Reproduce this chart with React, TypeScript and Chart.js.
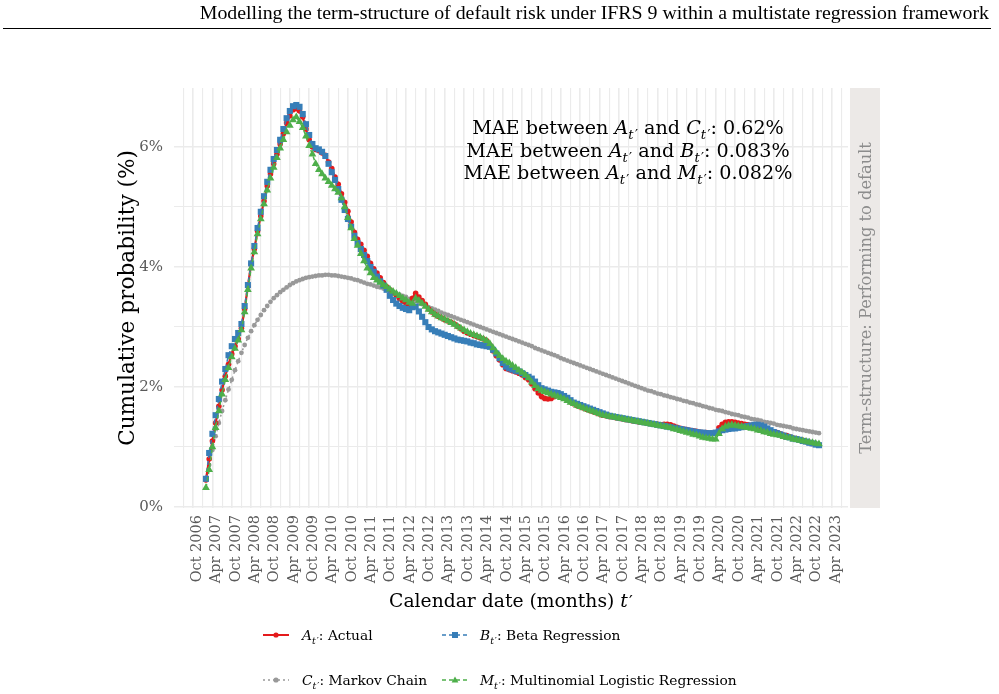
import React, { useEffect, useRef } from 'react';
import { Chart, registerables } from 'chart.js';
Chart.register(...registerables);

// x = months after Oct 2006; first observation is Feb 2007
const FIRST_MONTH = 4;

const xTickLabels = [
  'Oct 2006', 'Apr 2007', 'Oct 2007', 'Apr 2008', 'Oct 2008', 'Apr 2009', 'Oct 2009', 'Apr 2010',
  'Oct 2010', 'Apr 2011', 'Oct 2011', 'Apr 2012', 'Oct 2012', 'Apr 2013', 'Oct 2013', 'Apr 2014',
  'Oct 2014', 'Apr 2015', 'Oct 2015', 'Apr 2016', 'Oct 2016', 'Apr 2017', 'Oct 2017', 'Apr 2018',
  'Oct 2018', 'Apr 2019', 'Oct 2019', 'Apr 2020', 'Oct 2020', 'Apr 2021', 'Oct 2021', 'Apr 2022',
  'Oct 2022', 'Apr 2023',
];
const X_LABEL_STEP = 6;
const X_MINOR_STEP = 3;
const yTickValues = [0, 1, 2, 3, 4, 5, 6];
const yTickLabels = ['0%', '', '2%', '', '4%', '', '6%'];

// Actual (%)
const actual = [
  0.45, 0.80, 1.10, 1.40, 1.68, 1.95, 2.18, 2.38, 2.55, 2.68,
  2.80, 2.98, 3.30, 3.68, 4.05, 4.30, 4.60, 4.85, 5.10, 5.35,
  5.55, 5.72, 5.88, 6.05, 6.22, 6.40, 6.52, 6.62, 6.64, 6.60,
  6.50, 6.30, 6.12, 6.00, 5.96, 5.94, 5.90, 5.86, 5.75, 5.64,
  5.50, 5.38, 5.22, 5.08, 4.93, 4.75, 4.58, 4.46, 4.38, 4.28,
  4.18, 4.06, 3.97, 3.90, 3.82, 3.74, 3.67, 3.62, 3.57, 3.52,
  3.47, 3.43, 3.39, 3.36, 3.48, 3.56, 3.50, 3.44, 3.38, 3.30,
  3.25, 3.21, 3.18, 3.15, 3.12, 3.10, 3.08, 3.05, 3.01, 2.97,
  2.93, 2.90, 2.88, 2.86, 2.84, 2.82, 2.80, 2.77, 2.70, 2.60,
  2.52, 2.45, 2.37, 2.31, 2.29, 2.27, 2.25, 2.23, 2.20, 2.16,
  2.12, 2.05, 1.97, 1.90, 1.84, 1.81, 1.80, 1.81, 1.84, 1.86,
  1.85, 1.82, 1.78, 1.75, 1.72, 1.69, 1.67, 1.65, 1.63, 1.61,
  1.59, 1.57, 1.55, 1.53, 1.52, 1.51, 1.50, 1.49, 1.48, 1.47,
  1.46, 1.45, 1.44, 1.43, 1.42, 1.42, 1.41, 1.40, 1.39, 1.38,
  1.38, 1.37, 1.38, 1.38, 1.37, 1.35, 1.33, 1.31, 1.30, 1.29,
  1.28, 1.27, 1.26, 1.25, 1.24, 1.24, 1.23, 1.23, 1.24, 1.32,
  1.38, 1.41, 1.42, 1.42, 1.41, 1.40, 1.39, 1.38, 1.37, 1.36,
  1.35, 1.34, 1.33, 1.31, 1.29, 1.27, 1.25, 1.24, 1.22, 1.20,
  1.19, 1.17, 1.15, 1.14, 1.12, 1.11, 1.09, 1.08, 1.06, 1.05,
  1.03,
];

// Beta regression (%)
const betaReg = [
  0.47, 0.90, 1.22, 1.53, 1.80, 2.09, 2.30, 2.53, 2.68, 2.80,
  2.90, 3.05, 3.35, 3.70, 4.06, 4.35, 4.65, 4.92, 5.18, 5.42,
  5.62, 5.80, 5.95, 6.12, 6.30, 6.48, 6.60, 6.68, 6.70, 6.67,
  6.55, 6.38, 6.20, 6.05, 5.98, 5.96, 5.92, 5.85, 5.72, 5.58,
  5.45, 5.30, 5.12, 4.95, 4.80, 4.67, 4.52, 4.40, 4.30, 4.20,
  4.10, 4.00, 3.92, 3.84, 3.76, 3.69, 3.62, 3.52, 3.45, 3.39,
  3.35, 3.32, 3.30, 3.28, 3.33, 3.34, 3.26, 3.17, 3.08, 3.00,
  2.96, 2.93, 2.91, 2.89, 2.87, 2.85, 2.83, 2.81, 2.79, 2.78,
  2.77, 2.76, 2.74, 2.73, 2.71, 2.70, 2.69, 2.68, 2.67, 2.62,
  2.56, 2.48, 2.40, 2.34, 2.31, 2.29, 2.27, 2.26, 2.23, 2.20,
  2.17, 2.14, 2.09, 2.03, 1.98, 1.96, 1.94, 1.92, 1.91, 1.90,
  1.88, 1.85, 1.82, 1.78, 1.74, 1.72, 1.70, 1.68, 1.66, 1.64,
  1.62, 1.60, 1.58, 1.56, 1.54, 1.52, 1.51, 1.50, 1.49, 1.48,
  1.47, 1.46, 1.45, 1.44, 1.43, 1.42, 1.41, 1.40, 1.39, 1.38,
  1.37, 1.36, 1.35, 1.34, 1.33, 1.32, 1.31, 1.30, 1.29, 1.28,
  1.27, 1.26, 1.25, 1.24, 1.24, 1.23, 1.23, 1.23, 1.24, 1.26,
  1.28, 1.29, 1.30, 1.31, 1.31, 1.32, 1.33, 1.34, 1.35, 1.36,
  1.37, 1.37, 1.36, 1.34, 1.31, 1.28, 1.25, 1.23, 1.21, 1.19,
  1.17, 1.16, 1.14, 1.13, 1.12, 1.10, 1.09, 1.07, 1.06, 1.04,
  1.03,
];

// Markov chain (%)
const markovChain = [
  0.45, 0.70, 0.95, 1.18, 1.40, 1.60, 1.78, 1.96, 2.12, 2.28,
  2.43, 2.57, 2.70, 2.82, 2.93, 3.03, 3.12, 3.20, 3.28, 3.35,
  3.42, 3.48, 3.53, 3.58, 3.62, 3.66, 3.70, 3.73, 3.76, 3.78,
  3.80, 3.82, 3.83, 3.84, 3.85, 3.86, 3.86, 3.87, 3.87, 3.86,
  3.86, 3.85, 3.84, 3.83, 3.82, 3.81, 3.79, 3.78, 3.76, 3.74,
  3.72, 3.71, 3.69, 3.67, 3.66, 3.64, 3.62, 3.60, 3.58, 3.56,
  3.54, 3.52, 3.50, 3.47, 3.45, 3.43, 3.40, 3.38, 3.35, 3.33,
  3.31, 3.29, 3.27, 3.24, 3.22, 3.20, 3.18, 3.16, 3.14, 3.12,
  3.10, 3.08, 3.06, 3.04, 3.02, 3.00, 2.98, 2.96, 2.94, 2.92,
  2.90, 2.88, 2.86, 2.84, 2.82, 2.80, 2.78, 2.76, 2.74, 2.72,
  2.70, 2.68, 2.65, 2.63, 2.61, 2.59, 2.57, 2.55, 2.53, 2.51,
  2.48, 2.46, 2.44, 2.42, 2.40, 2.38, 2.36, 2.34, 2.32, 2.30,
  2.28, 2.26, 2.24, 2.22, 2.20, 2.18, 2.16, 2.14, 2.12, 2.10,
  2.08, 2.06, 2.04, 2.02, 2.00, 1.98, 1.96, 1.94, 1.93, 1.91,
  1.89, 1.88, 1.86, 1.85, 1.83, 1.82, 1.80, 1.79, 1.77, 1.76,
  1.74, 1.73, 1.71, 1.70, 1.68, 1.67, 1.65, 1.64, 1.62, 1.61,
  1.60, 1.58, 1.57, 1.55, 1.54, 1.53, 1.51, 1.50, 1.49, 1.47,
  1.46, 1.45, 1.44, 1.42, 1.41, 1.40, 1.39, 1.37, 1.36, 1.35,
  1.34, 1.33, 1.31, 1.30, 1.29, 1.28, 1.27, 1.26, 1.25, 1.24,
  1.23,
];

// Multinomial logistic regression (%)
const mlogitReg = [
  0.32, 0.62, 1.00, 1.32, 1.60, 1.88, 2.12, 2.32, 2.50, 2.64,
  2.78, 2.95, 3.25, 3.62, 3.98, 4.25, 4.55, 4.80, 5.05, 5.28,
  5.48, 5.66, 5.82, 5.98, 6.12, 6.25, 6.36, 6.45, 6.50, 6.42,
  6.32, 6.18, 6.02, 5.88, 5.72, 5.62, 5.55, 5.48, 5.42, 5.36,
  5.30, 5.24, 5.15, 5.00, 4.82, 4.65, 4.47, 4.36, 4.22, 4.10,
  3.98, 3.90, 3.82, 3.78, 3.74, 3.70, 3.67, 3.63, 3.59, 3.56,
  3.52, 3.48, 3.45, 3.41, 3.39, 3.48, 3.44, 3.39, 3.34, 3.29,
  3.25, 3.21, 3.18, 3.15, 3.13, 3.10, 3.07, 3.04, 3.01, 2.98,
  2.95, 2.92, 2.89, 2.87, 2.85, 2.83, 2.80, 2.77, 2.72, 2.65,
  2.58, 2.52, 2.47, 2.43, 2.40, 2.36, 2.32, 2.28, 2.24, 2.20,
  2.15, 2.08, 2.02, 1.97, 1.94, 1.92, 1.90, 1.88, 1.86, 1.84,
  1.82, 1.80, 1.77, 1.74, 1.72, 1.69, 1.67, 1.65, 1.63, 1.61,
  1.59, 1.57, 1.55, 1.53, 1.52, 1.51, 1.50, 1.49, 1.48, 1.47,
  1.46, 1.45, 1.44, 1.43, 1.42, 1.41, 1.40, 1.39, 1.38, 1.37,
  1.36, 1.35, 1.34, 1.33, 1.32, 1.30, 1.29, 1.27, 1.26, 1.24,
  1.23, 1.21, 1.20, 1.18, 1.16, 1.15, 1.14, 1.13, 1.13, 1.22,
  1.30, 1.34, 1.36, 1.37, 1.36, 1.35, 1.34, 1.33, 1.32, 1.31,
  1.30, 1.28, 1.27, 1.25, 1.24, 1.22, 1.21, 1.20, 1.19, 1.17,
  1.16, 1.15, 1.13, 1.12, 1.11, 1.10, 1.09, 1.08, 1.07, 1.06,
  1.05,
];

const SERIF = "'DejaVu Serif', 'Liberation Serif', serif";
const TIMES = "'Liberation Serif', 'Times New Roman', serif";

const COLORS = {
  actual: '#E41A1C',
  beta: '#377EB8',
  markov: '#999999',
  mlogit: '#4DAF4A',
};

type Part = { t: string; it?: boolean; sub?: boolean; prime?: boolean };

function partSize(p: Part, size: number) {
  if (p.prime) return p.sub ? size * 0.7 : size * 0.9;
  return p.sub ? size * 0.68 : size;
}
function partFont(p: Part, size: number) {
  return `${p.it ? 'italic ' : ''}${partSize(p, size)}px ${SERIF}`;
}
function partGap(p: Part, size: number) {
  return p.prime ? size * 0.07 : 0;
}
function measureParts(ctx: CanvasRenderingContext2D, parts: Part[], size: number) {
  let w = 0;
  for (const p of parts) {
    ctx.font = partFont(p, size);
    w += ctx.measureText(p.t).width + partGap(p, size);
  }
  return w;
}
function drawParts(
  ctx: CanvasRenderingContext2D, parts: Part[], x: number, y: number, size: number,
  align: 'left' | 'center' | 'right', color: string,
) {
  const w = measureParts(ctx, parts, size);
  let cx = align === 'left' ? x : align === 'center' ? x - w / 2 : x - w;
  ctx.fillStyle = color;
  ctx.textAlign = 'left';
  ctx.textBaseline = 'alphabetic';
  for (const p of parts) {
    ctx.font = partFont(p, size);
    let dy = 0;
    if (p.sub) dy = size * 0.3;
    if (p.prime) dy = p.sub ? size * 0.3 : size * 0.02;
    const gap = partGap(p, size);
    ctx.fillText(p.t, cx + gap, y + dy);
    cx += ctx.measureText(p.t).width + gap;
  }
}
function fitSize(ctx: CanvasRenderingContext2D, parts: Part[], target: number) {
  const w = measureParts(ctx, parts, 20);
  return (20 * target) / w;
}

const sym = (letter: string): Part[] => [
  { t: letter, it: true },
  { t: 't', it: true, sub: true },
  { t: '\u2032', sub: true, prime: true },
];

const annotationLines: Part[][] = [
  [{ t: 'MAE between ' }, ...sym('A'), { t: ' and ' }, ...sym('C'), { t: ': 0.62%' }],
  [{ t: 'MAE between ' }, ...sym('A'), { t: ' and ' }, ...sym('B'), { t: ': 0.083%' }],
  [{ t: 'MAE between ' }, ...sym('A'), { t: ' and ' }, ...sym('M'), { t: ': 0.082%' }],
];

const legendItems = [
  { parts: [...sym('A'), { t: ': Actual' }], color: COLORS.actual, dash: [] as number[], marker: 'circle', col: 0, row: 0 },
  { parts: [...sym('B'), { t: ': Beta Regression' }], color: COLORS.beta, dash: [4, 3], marker: 'rect', col: 1, row: 0 },
  { parts: [...sym('C'), { t: ': Markov Chain' }], color: COLORS.markov, dash: [2, 3], marker: 'circle', col: 0, row: 1 },
  { parts: [...sym('M'), { t: ': Multinomial Logistic Regression' }], color: COLORS.mlogit, dash: [4, 3], marker: 'triangle', col: 1, row: 1 },
];

function drawMarker(ctx: CanvasRenderingContext2D, kind: string, x: number, y: number, color: string) {
  ctx.fillStyle = color;
  ctx.beginPath();
  if (kind === 'circle') {
    ctx.arc(x, y, 2.6, 0, Math.PI * 2);
  } else if (kind === 'rect') {
    ctx.rect(x - 3, y - 3, 6, 6);
  } else {
    ctx.moveTo(x, y - 3.6);
    ctx.lineTo(x + 3.4, y + 2.4);
    ctx.lineTo(x - 3.4, y + 2.4);
    ctx.closePath();
  }
  ctx.fill();
}

const decorPlugin = {
  id: 'decor',
  beforeDraw(chart: any) {
    const ctx: CanvasRenderingContext2D = chart.ctx;
    const { top, bottom, right } = chart.chartArea;
    ctx.save();
    ctx.fillStyle = '#ffffff';
    ctx.fillRect(0, 0, chart.width, chart.height);
    ctx.fillStyle = '#ECE9E7';
    ctx.fillRect(right + 2, top, 30, bottom - top);
    ctx.restore();
  },
  afterDraw(chart: any) {
    const ctx: CanvasRenderingContext2D = chart.ctx;
    const { top, bottom, left, right } = chart.chartArea;
    ctx.save();

    // header
    const header = 'Modelling the term-structure of default risk under IFRS 9 within a multistate regression framework';
    ctx.font = `20px ${TIMES}`;
    const hw = ctx.measureText(header).width;
    const hs = (20 * 790) / hw;
    ctx.font = `${hs}px ${TIMES}`;
    ctx.fillStyle = '#000';
    ctx.textAlign = 'right';
    ctx.textBaseline = 'alphabetic';
    ctx.fillText(header, 989, 19);
    ctx.strokeStyle = '#000';
    ctx.lineWidth = 1;
    ctx.beginPath();
    ctx.moveTo(3, 28.5);
    ctx.lineTo(991, 28.5);
    ctx.stroke();

    // strip text
    const stripParts: Part[] = [{ t: 'Term-structure: Performing to default' }];
    const ss = fitSize(ctx, stripParts, 312);
    ctx.save();
    ctx.translate(right + 17 + ss * 0.35, (top + bottom) / 2);
    ctx.rotate(-Math.PI / 2);
    drawParts(ctx, stripParts, 0, 0, ss, 'center', '#8C8C8C');
    ctx.restore();

    // y title
    const yParts: Part[] = [{ t: 'Cumulative probability (%)' }];
    const ys = fitSize(ctx, yParts, 296);
    ctx.save();
    ctx.translate(126 + ys * 0.35, (top + bottom) / 2);
    ctx.rotate(-Math.PI / 2);
    drawParts(ctx, yParts, 0, 0, ys, 'center', '#000');
    ctx.restore();

    // x title
    const xParts: Part[] = [{ t: 'Calendar date (months) ' }, { t: 't', it: true }, { t: '\u2032', prime: true }];
    const xs = fitSize(ctx, xParts, 244);
    drawParts(ctx, xParts, (left + right) / 2, 600 + xs * 0.35, xs, 'center', '#000');

    // annotation
    const as = fitSize(ctx, annotationLines[0], 312);
    const ays = [127, 150, 172];
    annotationLines.forEach((ln, i) => drawParts(ctx, ln, 628, ays[i] + as * 0.35, as, 'center', '#000'));

    // legend
    const ls = fitSize(ctx, legendItems[3].parts, 257);
    const colKeyX = [263, 442];
    const colTextX = [302, 480];
    const rowY = [635, 680];
    for (const it of legendItems) {
      const kx = colKeyX[it.col];
      const y = rowY[it.row];
      ctx.strokeStyle = it.color;
      ctx.lineWidth = it.marker === 'circle' && it.dash.length === 0 ? 2 : 1.5;
      ctx.setLineDash(it.dash);
      ctx.beginPath();
      ctx.moveTo(kx, y);
      ctx.lineTo(kx + 26, y);
      ctx.stroke();
      ctx.setLineDash([]);
      drawMarker(ctx, it.marker, kx + 13, y, it.color);
      drawParts(ctx, it.parts, colTextX[it.col], y + ls * 0.35, ls, 'left', '#000');
    }
    ctx.restore();
  },
};

function series(values: number[]) {
  return values.map((v, i) => ({ x: FIRST_MONTH + i, y: v }));
}

export default function App() {
  const ref = useRef<HTMLCanvasElement>(null);
  useEffect(() => {
    if (!ref.current) return;
    Chart.defaults.font.family = SERIF;
    const gridWidth = (ctx: any) => {
      const v = ctx.tick ? ctx.tick.value : 0;
      return ctx.scale.axis === 'x' ? (v % X_LABEL_STEP === 0 ? 1.6 : 1.1) : (v % 2 === 0 ? 1.6 : 1.1);
    };
    const chart = new Chart(ref.current, {
      type: 'line',
      data: {
        datasets: [
          {
            label: 'Markov Chain', data: series(markovChain), borderColor: COLORS.markov,
            backgroundColor: COLORS.markov, borderWidth: 1.5, borderDash: [2, 3],
            pointStyle: 'circle', pointRadius: 2.4, pointBorderWidth: 0, order: 4,
          },
          {
            label: 'Actual', data: series(actual), borderColor: COLORS.actual,
            backgroundColor: COLORS.actual, borderWidth: 2.2,
            pointStyle: 'circle', pointRadius: 2.8, pointBorderWidth: 0, order: 3,
          },
          {
            label: 'Beta Regression', data: series(betaReg), borderColor: COLORS.beta,
            backgroundColor: COLORS.beta, borderWidth: 1.5, borderDash: [4, 3],
            pointStyle: 'rect', pointRadius: 4.3, pointBorderWidth: 0, order: 2,
          },
          {
            label: 'Multinomial Logistic Regression', data: series(mlogitReg), borderColor: COLORS.mlogit,
            backgroundColor: COLORS.mlogit, borderWidth: 1.5, borderDash: [4, 3],
            pointStyle: 'triangle', pointRadius: 4.5, pointBorderWidth: 0, order: 1,
          },
        ] as any,
      },
      options: {
        animation: false,
        responsive: false,
        maintainAspectRatio: false,
        layout: { padding: { left: 134, right: 151, top: 88, bottom: 86 } },
        plugins: { legend: { display: false }, tooltip: { enabled: false } },
        elements: { line: { tension: 0 } },
        scales: {
          x: {
            type: 'linear',
            min: -5.9,
            max: 203,
            afterBuildTicks: (s: any) => {
              const t = [];
              for (let v = -X_MINOR_STEP; v <= (xTickLabels.length - 1) * X_LABEL_STEP + X_MINOR_STEP; v += X_MINOR_STEP) t.push({ value: v });
              s.ticks = t;
            },
            afterFit: (s: any) => { s.height = 100; },
            border: { display: false },
            grid: { color: '#EBEBEB', lineWidth: gridWidth, drawTicks: false },
            ticks: {
              autoSkip: false,
              minRotation: 90,
              maxRotation: 90,
              padding: 7,
              labelOffset: 4,
              color: '#5A5A5A',
              font: { family: SERIF, size: 14.5 },
              callback: (value: any) => {
                const v = Number(value);
                if (v >= 0 && v % X_LABEL_STEP === 0) return xTickLabels[v / X_LABEL_STEP] ?? '';
                return '';
              },
            },
          },
          y: {
            type: 'linear',
            min: -1 / 60,
            max: 7 - 1 / 60,
            afterBuildTicks: (s: any) => { s.ticks = yTickValues.map((v) => ({ value: v })); },
            afterFit: (s: any) => { s.width = 40; },
            border: { display: false },
            grid: { color: '#EBEBEB', lineWidth: gridWidth, drawTicks: false },
            ticks: {
              padding: 11,
              color: '#5A5A5A',
              font: { family: SERIF, size: 15 },
              callback: (value: any) => yTickLabels[yTickValues.indexOf(Number(value))] ?? '',
            },
          },
        },
      } as any,
      plugins: [decorPlugin],
    });
    return () => chart.destroy();
  }, []);
  return (
    <div style={{ position: 'absolute', left: 0, top: 0, width: 999, height: 694, background: '#fff' }}>
      <canvas ref={ref} width={999} height={694} style={{ display: 'block', width: 999, height: 694 }} />
    </div>
  );
}
